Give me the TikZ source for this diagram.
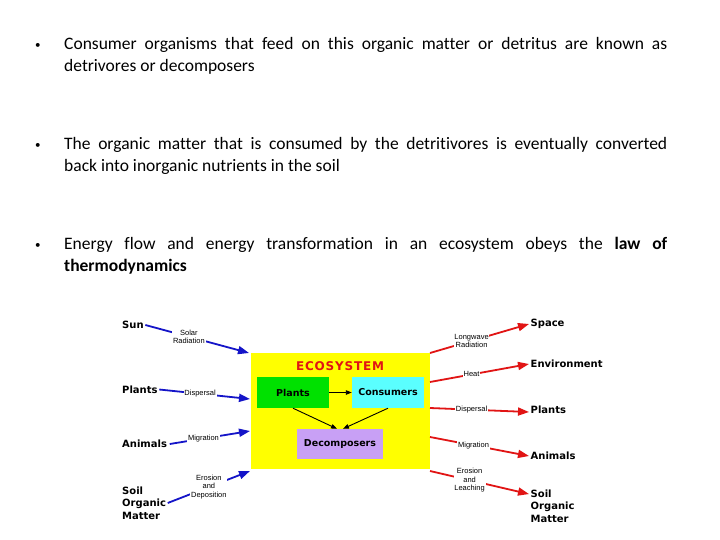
\documentclass[tikz,border=0pt]{standalone}
\usepackage{fontspec}
\setmainfont{Carlito}[Ligatures=NoCommon]
\newfontfamily\djfont{DejaVu Sans}
\newfontfamily\libfont{Liberation Sans}
\usetikzlibrary{arrows.meta}
\definecolor{arrblue}{RGB}{20,20,200}
\definecolor{arrred}{RGB}{225,20,20}
\definecolor{ecoyellow}{RGB}{255,255,0}
\definecolor{plgreen}{RGB}{0,225,0}
\definecolor{concyan}{RGB}{90,255,255}
\definecolor{decpurple}{RGB}{200,160,245}
\definecolor{titlered}{RGB}{225,20,20}
\begin{document}
\begin{tikzpicture}[x=1pt,y=-1pt,
  para/.style={anchor=base west, text width=603pt, align=justify, inner sep=0pt,
    font=\fontsize{17.5}{22}\selectfont},
  bulletmark/.style={anchor=base west, inner sep=0pt, font=\fontsize{11}{22}\selectfont},
  biglbl/.style={font=\djfont\bfseries\fontsize{10}{12.5}\selectfont, inner sep=1.5pt, align=left},
  smalllbl/.style={font=\libfont\fontsize{7.5}{8.6}\selectfont, inner sep=0.8pt, fill=white, align=center},
  innerbox/.style={draw=none, inner sep=0pt, minimum height=31pt,
    font=\djfont\bfseries\fontsize{9.5}{10}\selectfont},
  barr/.style={draw=arrblue, line width=1.8pt, -{Triangle[length=11pt,width=8pt]}},
  rarr/.style={draw=arrred, line width=1.8pt, -{Triangle[length=11pt,width=8pt]}},
  karr/.style={draw=black, line width=0.9pt, -{Triangle[length=6pt,width=4.5pt]}}
]
\useasboundingbox (0,0) rectangle (720,540);
\fill[white] (0,0) rectangle (720,540);

% bullets and text
\node[bulletmark] (m1) at (35,49) {•};
\node[para] (p1) at (64,50) {Consumer organisms that feed on this organic matter or detritus are known as\linebreak detrivores or decomposers};
\node[bulletmark] (m2) at (35,149) {•};
\node[para] (p2) at (64,150) {The organic matter that is consumed by the detritivores is eventually converted\linebreak back into inorganic nutrients in the soil};
\node[bulletmark] (m3) at (35,248) {•};
\node[para] (p3) at (64,249) {Energy flow and energy transformation in an ecosystem obeys the \textbf{law of}\linebreak \textbf{thermodynamics}};

% ecosystem box
\node[fill=ecoyellow, minimum width=179pt, minimum height=116pt, inner sep=0pt] (eco) at (340.5,411) {};
\node[font=\djfont\bfseries\fontsize{12}{13}\selectfont, text=titlered, inner sep=0pt] (title) at (340,366) {E\kern0.8pt C\kern0.8pt O\kern0.8pt S\kern0.8pt Y\kern0.8pt S\kern0.8pt T\kern0.8pt E\kern0.8pt M};
\node[innerbox, fill=plgreen, minimum width=72pt] (plants) at (293,392.5) {Plants};
\node[innerbox, fill=concyan, minimum width=72pt] (cons) at (388,392.5) {Consumers};
\node[innerbox, fill=decpurple, minimum width=86pt, minimum height=30pt] (deco) at (340,444) {Decomposers};
\draw[karr] (plants.east) -- (cons.west);
\draw[karr] (plants.south) -- ([xshift=-3pt]deco.north);
\draw[karr] (cons.south) -- ([xshift=3pt]deco.north);

% left side
\node[biglbl, anchor=west] (lsun) at (120.5,325) {Sun};
\node[biglbl, anchor=west] (lplants) at (120.5,389.5) {Plants};
\node[biglbl, anchor=west] (lanimals) at (120.5,444) {Animals};
\node[biglbl, anchor=west] (lsoil) at (120.5,503) {Soil\\Organic\\Matter};
\coordinate (inSun) at (249,353);
\coordinate (inPlants) at (250,399);
\coordinate (inAnimals) at (250,431);
\coordinate (inSoil) at (250,471);
\draw[barr] (lsun.east) -- (inSun) node[smalllbl, pos=0.42] (lsolar) {Solar\\Radiation};
\draw[barr] (lplants.east) -- (inPlants) node[smalllbl, pos=0.45] (ldisp) {Dispersal};
\draw[barr] ([xshift=1pt]lanimals.east) -- (inAnimals) node[smalllbl, pos=0.42] (lmig) {Migration};
\draw[barr] (lsoil.east) -- (inSoil) node[smalllbl, pos=0.5] (lero) {Erosion\\and\\Deposition};

% right side
\node[biglbl, anchor=west] (rspace) at (529,324) {Space};
\node[biglbl, anchor=west] (renv) at (529,364) {Environment};
\node[biglbl, anchor=west] (rplants) at (529,410) {Plants};
\node[biglbl, anchor=west] (ranimals) at (529,456) {Animals};
\node[biglbl, anchor=north west] (rsoil) at (529,488) {Soil\\Organic\\Matter};
\coordinate (outSpace) at (430,353);
\coordinate (outEnv) at (430,382);
\coordinate (outPlants) at (430,408);
\coordinate (outAnimals) at (430,437);
\coordinate (outSoil) at (430,471);
\draw[rarr] (outSpace) -- (rspace.west) node[smalllbl, pos=0.42] (rlong) {Longwave\\Radiation};
\draw[rarr] (outEnv) -- (renv.west) node[smalllbl, pos=0.42] (rheat) {Heat};
\draw[rarr] (outPlants) -- ([yshift=-2pt]rplants.west) node[smalllbl, pos=0.42] (rdisp) {Dispersal};
\draw[rarr] (outAnimals) -- (ranimals.west) node[smalllbl, pos=0.44] (rmig) {Migration};
\draw[rarr] (outSoil) -- ([yshift=12pt]rsoil.west) node[smalllbl, pos=0.4] (rero) {Erosion\\and\\Leaching};
\end{tikzpicture}
\end{document}
